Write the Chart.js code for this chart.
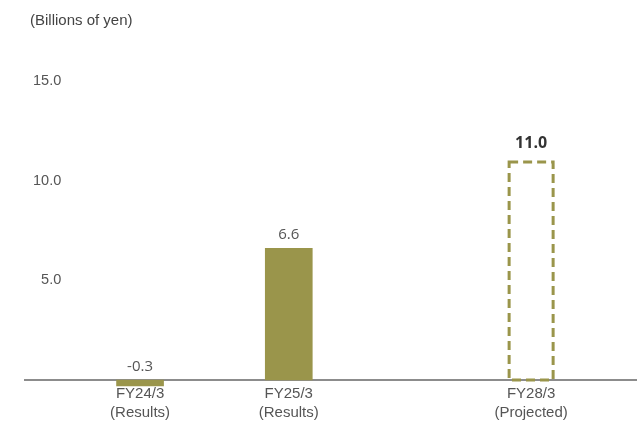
<!DOCTYPE html>
<html lang="en">
  <head>
    <meta charset="UTF-8" />
    <title>Operating income</title>
    <script src="https://cdn.jsdelivr.net/npm/chart.js"></script>
    <style>
      html, body { margin: 0; padding: 0; background: #fff; }
      #wrap { width: 637px; height: 423px; position: relative; }
    </style>
  </head>
  <body>
    <div id="wrap"><canvas id="incomeChart"></canvas></div>

    <script>
      // Data
      const periods = ['FY24/3', 'FY25/3', 'FY28/3']
      const notes = ['(Results)', '(Results)', '(Projected)']
      const values = [-0.3, 6.6, 11.0]
      const projected = [false, false, true]
      const yTicks = [5, 10, 15]
      const unitLabel = '(Billions of yen)'

      // where each period sits along the x axis (0..10)
      const slotPos = [1.88, 4.31, 8.27]

      const olive = '#9a954b'
      const axisGray = '#8c8c8c'
      const textGray = '#555555'

      Chart.defaults.font.family = "'Liberation Sans', Arial, sans-serif"
      Chart.defaults.font.size = 15
      Chart.defaults.color = textGray

      // value labels, dashed outline for the projected bar, unit caption
      const barExtras = {
        id: 'barExtras',
        afterDatasetsDraw(chart) {
          const ctx = chart.ctx
          const meta = chart.getDatasetMeta(0)
          meta.data.forEach((el, i) => {
            const { x, y, base, width } = el.getProps(['x', 'y', 'base', 'width'], true)
            if (projected[i]) {
              const lw = 3
              ctx.save()
              ctx.strokeStyle = olive
              ctx.lineWidth = lw
              ctx.setLineDash([9, 5])
              ctx.strokeRect(x - width / 2 + lw / 2, y + lw / 2, width - lw, base - y - lw / 2)
              ctx.restore()
            }
            const top = Math.min(y, base)
            ctx.save()
            ctx.textAlign = 'center'
            ctx.textBaseline = 'bottom'
            if (projected[i]) {
              ctx.font = "bold 16px 'Open Sans', sans-serif"
              ctx.fillStyle = '#333333'
              ctx.fillText(values[i].toFixed(1), x, top - 9)
            } else {
              ctx.font = "15px 'Open Sans', sans-serif"
              ctx.fillStyle = textGray
              ctx.fillText(values[i].toFixed(1), x, top - 6)
            }
            ctx.restore()
          })
          ctx.save()
          ctx.font = "15px 'Liberation Sans', Arial, sans-serif"
          ctx.fillStyle = '#444444'
          ctx.textAlign = 'left'
          ctx.textBaseline = 'middle'
          ctx.fillText(unitLabel, 30, 21)
          ctx.restore()
        },
      }

      new Chart(document.getElementById('incomeChart').getContext('2d'), {
        type: 'bar',
        data: {
          datasets: [
            {
              data: values.map((v, i) => ({ x: slotPos[i], y: v })),
              backgroundColor: projected.map((p) => (p ? 'rgba(0,0,0,0)' : olive)),
              borderWidth: 0,
              barThickness: 47,
              clip: false,
            },
          ],
        },
        options: {
          responsive: true,
          maintainAspectRatio: false,
          animation: false,
          layout: { padding: { top: 21, right: 0, bottom: 0, left: 0 } },
          plugins: {
            legend: { display: false },
            tooltip: { enabled: false },
          },
          scales: {
            x: {
              type: 'linear',
              min: 0,
              max: 10,
              offset: false,
              grid: { display: false, drawTicks: false },
              border: { display: true, color: axisGray, width: 2 },
              afterBuildTicks: (s) => {
                s.ticks = slotPos.map((v) => ({ value: v }))
              },
              afterFit: (s) => {
                s.height = 43
              },
              ticks: {
                autoSkip: false,
                maxRotation: 0,
                padding: 4,
                font: { size: 15, lineHeight: 1.28 },
                callback: (v, i) => [periods[i], notes[i]],
              },
            },
            y: {
              min: 0,
              max: 18,
              grid: { display: false, drawTicks: false },
              border: { display: false },
              afterBuildTicks: (s) => {
                s.ticks = yTicks.map((v) => ({ value: v }))
              },
              afterFit: (s) => {
                s.width = 25
              },
              ticks: {
                mirror: true,
                crossAlign: 'far',
                padding: 8,
                font: { size: 14.5 },
                callback: (v) => v.toFixed(1),
              },
            },
          },
        },
        plugins: [barExtras],
      })
    </script>
  </body>
</html>
